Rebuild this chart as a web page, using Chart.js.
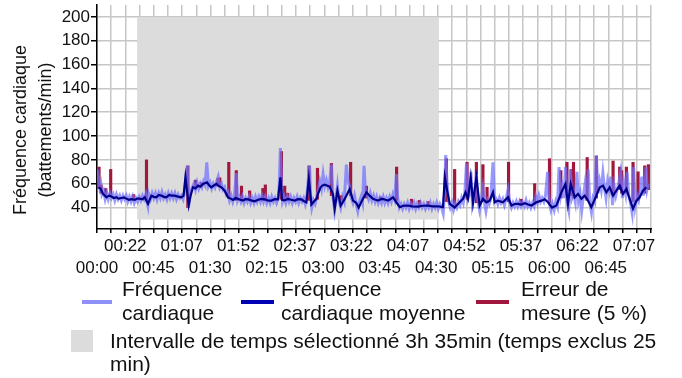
<!DOCTYPE html>
<html>
<head>
<meta charset="utf-8">
<script src="https://cdn.jsdelivr.net/npm/chart.js@4.4.1/dist/chart.umd.min.js"></script>
<style>
  body { margin: 0; background: #fff; font-family: Arial, "Liberation Sans", sans-serif; color: #111; }
  #wrap { position: relative; width: 682px; height: 378px; overflow: hidden; }
  #hrChart { position: absolute; left: 0; top: 0; }
  .swatch { position: absolute; height: 4px; top: 300px; }
  .item { position: absolute; font-size: 21px; line-height: 24px; white-space: nowrap; }
</style>
</head>
<body>
<div id="wrap">
  <canvas id="hrChart" width="682" height="280"></canvas>

  <!-- legend -->
  <div class="swatch" style="left:82px;width:30px;background:#8f8ff8"></div>
  <div class="item" style="left:122px;top:277px">Fréquence<br>cardiaque</div>
  <div class="swatch" style="left:241px;width:33px;background:#0000b4"></div>
  <div class="item" style="left:281px;top:277px">Fréquence<br>cardiaque moyenne</div>
  <div class="swatch" style="left:476px;width:33px;background:#a0163c"></div>
  <div class="item" style="left:521px;top:277px">Erreur de<br>mesure (5 %)</div>
  <div style="position:absolute;left:71px;top:330px;width:22px;height:22px;background:#dcdcdc"></div>
  <div class="item" style="left:110px;top:329px;line-height:23px">Intervalle de temps sélectionné 3h 35min (temps exclus 25<br>min)</div>
</div>

<script>
// minutes since 00:00
const hrMinutes = [
  0.4, 1.3, 2.2, 3.0, 3.9, 5.2, 6.5, 7.8, 9.0, 10.3,
  11.6, 12.9, 14.2, 15.5, 16.8, 18.1, 19.4, 20.7, 22.0, 23.3,
  24.5, 25.8, 27.1, 28.4, 29.7, 31.0, 32.3, 33.6, 34.9, 36.2,
  37.5, 38.8, 39.6, 40.5, 41.3, 42.6, 43.9, 45.2, 46.5, 47.8,
  49.1, 50.4, 51.7, 53.0, 54.3, 55.6, 56.8, 58.1, 59.4, 60.7,
  62.0, 63.3, 64.6, 65.9, 67.2, 68.5, 69.8, 71.1, 71.9, 72.8,
  73.6, 74.5, 75.8, 77.1, 78.4, 79.7, 81.0, 82.3, 83.5, 84.8,
  86.1, 87.4, 88.7, 90.0, 91.3, 92.6, 93.9, 95.2, 96.5, 97.8,
  99.1, 100.3, 101.6, 102.9, 104.2, 105.5, 106.8, 108.1, 109.4, 110.9,
  112.0, 113.3, 114.6, 115.8, 117.1, 118.4, 119.7, 121.0, 122.3, 123.6,
  124.9, 126.2, 127.5, 128.8, 130.1, 131.3, 132.6, 133.9, 135.2, 136.5,
  137.8, 139.1, 140.4, 141.7, 143.0, 144.3, 145.1, 146.0, 146.9, 147.7,
  149.0, 150.3, 151.6, 152.9, 154.2, 155.5, 156.8, 158.1, 159.3, 160.6,
  161.9, 163.2, 164.5, 165.8, 167.1, 168.4, 169.2, 170.1, 171.0, 172.3,
  173.6, 174.8, 176.1, 177.4, 178.7, 180.0, 181.3, 182.6, 183.9, 185.2,
  186.6, 187.8, 189.1, 190.3, 191.4, 192.5, 194.0, 195.5, 196.8, 198.5,
  199.8, 201.1, 202.4, 203.7, 205.0, 206.3, 207.6, 208.9, 210.2, 211.4,
  212.6, 213.6, 214.9, 216.2, 217.5, 218.8, 220.1, 221.4, 222.6, 223.9,
  225.2, 226.5, 227.8, 229.1, 230.4, 231.7, 233.0, 234.3, 235.6, 236.9,
  238.3, 239.4, 240.7, 242.0, 243.3, 244.6, 245.9, 247.2, 248.5, 249.8,
  251.1, 252.4, 253.7, 254.9, 256.2, 257.5, 258.8, 260.1, 261.4, 262.7,
  264.0, 265.3, 266.6, 267.9, 269.2, 270.4, 271.7, 273.0, 274.3, 275.6,
  276.5, 277.6, 278.6, 279.9, 281.2, 282.5, 283.8, 285.1, 286.4, 287.7,
  289.0, 290.3, 291.6, 292.8, 294.1, 295.4, 296.7, 297.6, 298.9, 300.2,
  302.0, 303.2, 304.5, 305.8, 307.2, 308.4, 309.6, 310.9, 312.2, 313.5,
  315.2, 316.5, 317.8, 319.1, 320.4, 321.7, 323.0, 324.3, 325.6, 327.2,
  328.6, 329.9, 331.2, 332.5, 333.8, 335.0, 336.3, 337.6, 338.9, 340.2,
  341.5, 342.8, 344.1, 345.4, 346.7, 348.0, 349.3, 350.6, 351.8, 353.1,
  354.4, 355.7, 357.0, 358.7, 360.0, 361.3, 362.6, 363.9, 365.2, 366.5,
  367.8, 369.1, 370.4, 371.7, 372.9, 374.2, 375.5, 376.8, 378.1, 379.4,
  380.7, 382.0, 383.3, 384.6, 385.9, 387.2, 388.5, 389.7, 391.0, 392.3,
  393.6, 394.9, 396.2, 397.5, 398.8, 400.1, 401.4, 402.7, 404.0, 405.2,
  406.5, 407.8, 409.1, 410.4, 411.7, 413.0, 414.3, 415.6, 416.9, 418.2,
  419.5, 420.8, 422.0, 423.3, 424.6, 425.9, 427.2, 428.5, 429.8, 431.1,
  432.4, 433.7, 435.0, 436.3, 437.1, 438.0, 438.8
];
const hrValues = [
  72, 64, 57, 60, 51, 54, 47, 52, 47, 52,
  48, 51, 46, 51, 47, 50, 46, 50, 47, 50,
  45, 49, 45, 49, 44, 48, 45, 49, 46, 50,
  47, 51, 45, 41, 51, 47, 52, 48, 52, 47,
  52, 48, 53, 48, 51, 47, 52, 48, 52, 48,
  52, 47, 51, 48, 50, 47, 54, 68, 75, 40,
  46, 54, 57, 60, 55, 61, 56, 60, 57, 62,
  59, 78, 58, 61, 56, 60, 57, 62, 66, 57,
  60, 55, 57, 51, 53, 46, 50, 45, 50, 69,
  46, 49, 45, 49, 44, 48, 45, 49, 44, 48,
  44, 49, 45, 49, 45, 50, 45, 49, 44, 48,
  44, 49, 45, 48, 44, 48, 60, 90, 58, 45,
  49, 44, 49, 45, 49, 44, 48, 45, 49, 44,
  48, 45, 48, 43, 50, 66, 75, 50, 40, 46,
  43, 48, 55, 62, 56, 68, 58, 63, 57, 62,
  76, 50, 38, 48, 58, 46, 40, 49, 45, 76,
  62, 58, 48, 44, 50, 43, 37, 45, 49, 44,
  75, 55, 51, 47, 52, 46, 50, 45, 49, 44,
  48, 44, 49, 44, 48, 44, 49, 45, 51, 47,
  68, 48, 40, 43, 39, 43, 40, 44, 39, 43,
  40, 44, 39, 43, 40, 44, 40, 43, 39, 43,
  40, 44, 39, 43, 40, 44, 39, 43, 40, 35,
  50, 84, 62, 45, 40, 44, 38, 43, 40, 45,
  42, 48, 44, 52, 77, 48, 52, 70, 42, 48,
  68, 46, 38, 46, 56, 44, 37, 46, 43, 48,
  78, 45, 47, 43, 48, 44, 47, 42, 47, 55,
  44, 40, 44, 41, 45, 41, 45, 41, 44, 41,
  46, 41, 44, 40, 44, 41, 49, 44, 50, 45,
  48, 45, 50, 70, 44, 38, 43, 38, 45, 41,
  74, 50, 57, 48, 74, 45, 38, 72, 48, 52,
  45, 70, 46, 52, 38, 50, 60, 46, 72, 44,
  36, 48, 45, 84, 52, 62, 55, 69, 56, 48,
  62, 55, 66, 42, 58, 50, 56, 62, 70, 48,
  60, 52, 70, 50, 44, 36, 74, 42, 50, 46,
  54, 66, 50, 62, 74, 56, 60
];

const avgMinutes = [
  1.3, 2.9, 4.7, 7.5, 9.5, 11.5, 13.4, 15.4, 17.2, 19.4,
  21.5, 23.4, 25.4, 27.4, 30.0, 31.9, 34.0, 36.2, 38.0, 40.6,
  43.3, 45.2, 47.3, 49.1, 51.2, 53.4, 55.2, 57.3, 59.3, 61.8,
  64.5, 67.2, 68.9, 70.4, 73.0, 74.5, 76.4, 78.4, 80.4, 82.3,
  84.4, 87.6, 89.1, 91.0, 93.0, 95.1, 96.9, 99.1, 101.6, 104.3,
  106.4, 108.3, 110.2, 112.2, 114.1, 116.2, 118.0, 120.2, 122.7, 125.5,
  128.3, 130.8, 133.5, 136.1, 138.8, 141.3, 144.1, 146.0, 147.3, 149.4,
  152.0, 154.6, 157.4, 159.8, 162.7, 164.5, 166.7, 168.6, 170.7, 172.7,
  174.7, 176.1, 178.0, 179.6, 181.2, 183.0, 185.2, 187.8, 189.2, 191.4,
  194.0, 197.2, 199.0, 201.1, 203.8, 206.3, 208.3, 211.7, 214.5, 217.0,
  219.7, 221.8, 223.7, 225.7, 227.6, 229.5, 231.6, 233.4, 235.7, 238.3,
  241.0, 243.8, 247.5, 250.6, 255.6, 259.3, 263.5, 267.0, 271.5, 275.4,
  276.9, 278.6, 280.8, 284.7, 288.7, 291.4, 293.3, 295.3, 297.5, 299.3,
  302.0, 304.6, 307.2, 310.0, 312.6, 315.2, 316.6, 319.2, 323.2, 327.2,
  329.9, 332.5, 335.1, 337.6, 340.5, 343.2, 345.8, 349.8, 353.7, 356.4,
  359.0, 362.2, 365.7, 369.7, 372.9, 374.9, 377.1, 380.3, 382.9, 385.6,
  388.2, 390.9, 393.5, 397.5, 400.2, 402.8, 405.5, 408.1, 410.8, 413.4,
  416.1, 418.7, 421.4, 424.0, 426.7, 429.4, 432.0, 434.6, 437.3
];
const avgValues = [
  57, 55.8, 51.6, 48.6, 50, 49.2, 48, 48.6, 47.5, 48,
  48.5, 47.5, 46.5, 47, 46.4, 47.5, 47.5, 47, 48.6, 43.1,
  50, 49, 48.6, 50.5, 50, 49, 48.6, 50.5, 50, 50,
  49.2, 48.6, 50, 65.4, 42, 50, 57, 56, 58.4, 57.5,
  59.8, 61.2, 59, 57, 58.5, 59.8, 58, 57, 54.2, 48.6,
  47.5, 46.4, 48, 47.3, 46.5, 45.8, 47, 46.9, 46, 45.3,
  46.5, 47.3, 46.9, 45.8, 45.8, 47, 46.9, 65.4, 46.4, 46,
  47.3, 46.5, 45.8, 47, 46.9, 45.5, 44.4, 64, 42.5, 45,
  47.3, 52, 57, 58.5, 59.2, 58.5, 57.5, 51.4, 39, 54.2,
  41.7, 47.3, 51, 55.6, 45.8, 44, 40, 47.3, 52.8, 50,
  47.3, 46.5, 45.8, 47, 47.3, 46.5, 45.8, 47, 48.6, 44.4,
  40.3, 41.5, 41.7, 41, 40.8, 41.5, 41.7, 41, 41.1, 40.3,
  65.4, 55, 43.1, 40, 44.4, 47.3, 52.8, 47.3, 65.4, 44.4,
  65.4, 41.7, 47.3, 44.4, 45.8, 52.8, 44.4, 45.8, 44.4, 48.6,
  41.7, 43, 43.1, 42.5, 43.7, 42.5, 41.7, 44.4, 45.8, 47,
  44.4, 40, 41.7, 52.8, 59.8, 43.1, 59.8, 48.6, 51.4, 47.3,
  50, 45.8, 40.3, 50, 57, 58.4, 52.8, 57, 50, 54.2,
  58.4, 51.4, 55.6, 47.3, 39, 45.8, 48.6, 54.2, 57
];

// measurement error spikes, drawn from low to high
const errorMinutes = [
  1.6, 3.3, 6.9, 10.9, 28.9, 39.4, 72.3, 78.4, 83.1, 96.3,
  97.7, 104.9, 110.9, 115.0, 121.5, 132.0, 134.0, 146.8, 149.4, 151.8,
  168.8, 175.5, 186.6, 194.7, 201.9, 214.5, 225.7, 238.5, 250.3, 256.7,
  263.6, 278.1, 284.7, 294.6, 302.0, 307.2, 310.5, 327.6, 337.6, 348.4,
  360.2, 369.2, 374.1, 377.6, 379.3, 390.2, 397.5, 410.8, 416.1, 417.6,
  421.4, 426.7, 430.7, 436.0, 438.9
];
const errorLow = [
  56, 52, 50, 50, 47, 46, 40, 57, 58, 58,
  58, 48, 46, 46, 46, 46, 46, 47, 47, 46,
  46, 47, 50, 46, 50, 48, 46, 46, 41, 41,
  41, 45, 42, 47, 44, 45, 44, 45, 42, 43,
  44, 48, 50, 50, 48, 46, 48, 50, 55, 52,
  52, 45, 46, 52, 55
];
const errorHigh = [
  74, 59, 56, 72, 51, 80, 75, 63, 61, 64.5,
  65, 78, 71, 58, 54, 56, 59, 87, 58, 52,
  75, 73, 77, 50, 78, 58, 49, 74, 47, 46,
  45, 81, 72, 78, 78, 76, 57, 78, 47, 60,
  81, 71, 78, 72, 78, 82, 83, 79, 74, 71,
  74, 78, 70, 75, 76
];

// selected interval (grey block)
const bandMinutes = [31.9, 272.0];
const bandTop = [200, 200];
const bandBottom = 30;

const yTicks = [40, 60, 80, 100, 120, 140, 160, 180, 200];
const labelMinutes = [0, 22.5, 45, 67.5, 90, 112.5, 135, 157.5, 180, 202.5,
  225, 247.5, 270, 292.5, 315, 337.5, 360, 382.5, 405, 427.5];
const timeLabels = ['00:00', '00:22', '00:45', '01:07', '01:30', '01:52', '02:15', '02:37', '03:00', '03:22',
  '03:45', '04:07', '04:30', '04:52', '05:15', '05:37', '06:00', '06:22', '06:45', '07:07'];
const yTitle = ['Fréquence cardiaque', '(battements/min)'];

const X_MAX = 441;
const Y_MIN = 22;
const Y_MAX = 210;
const GRID_COUNT = 39;
const FONT = 'Arial, "Liberation Sans", sans-serif';

Chart.defaults.font.family = FONT;
Chart.defaults.font.size = 17;
Chart.defaults.color = '#111';

const toPoints = (xs, ys) => xs.map((x, i) => ({ x: x, y: ys[i] }));

// y axis title, a little below the plot middle like the original
const yAxisTitle = {
  id: 'yAxisTitle',
  afterDraw(chart) {
    const ctx = chart.ctx;
    ctx.save();
    ctx.font = '18px ' + FONT;
    ctx.fillStyle = '#111';
    ctx.textAlign = 'center';
    ctx.textBaseline = 'middle';
    ctx.translate(21, 130);
    ctx.rotate(-Math.PI / 2);
    ctx.fillText(yTitle[0], 0, 0);
    ctx.fillText(yTitle[1], 0, 25);
    ctx.restore();
  }
};

new Chart('hrChart', {
  type: 'line',
  data: {
    datasets: [
      {
        label: 'Intervalle de temps sélectionné',
        data: toPoints(bandMinutes, bandTop),
        fill: { value: bandBottom },
        backgroundColor: '#dcdcdc',
        borderWidth: 0,
        pointRadius: 0,
        order: 4
      },
      {
        label: 'Erreur de mesure (5 %)',
        type: 'bar',
        data: errorMinutes.map((t, i) => ({ x: t, y: [errorLow[i], errorHigh[i]] })),
        backgroundColor: '#a0163c',
        barThickness: 2.5,
        order: 3
      },
      {
        label: 'Fréquence cardiaque',
        data: toPoints(hrMinutes, hrValues),
        borderColor: 'rgba(112,112,255,0.72)',
        borderWidth: 3,
        pointRadius: 0,
        order: 2
      },
      {
        label: 'Fréquence cardiaque moyenne',
        data: toPoints(avgMinutes, avgValues),
        borderColor: '#000088',
        borderWidth: 2.2,
        pointRadius: 0,
        order: 1
      }
    ]
  },
  options: {
    responsive: false,
    animation: false,
    layout: { padding: { top: 5, right: 31, left: 0, bottom: 0 } },
    plugins: {
      legend: { display: false },
      tooltip: { enabled: false }
    },
    scales: {
      // grid lines and small tick marks only
      xg: {
        type: 'linear',
        position: 'bottom',
        min: 0,
        max: X_MAX,
        afterBuildTicks: s => {
          const ticks = [];
          for (let k = 0; k <= GRID_COUNT; k++) ticks.push({ value: k * X_MAX / GRID_COUNT });
          s.ticks = ticks;
        },
        afterFit: s => { s.height = 0; },
        ticks: { display: false },
        grid: { color: '#c6c6c6', lineWidth: 1.5, tickColor: '#000', tickLength: 4 },
        border: { display: false }
      },
      x: {
        type: 'linear',
        position: 'bottom',
        min: 0,
        max: X_MAX,
        offset: false,
        afterBuildTicks: s => { s.ticks = labelMinutes.map(v => ({ value: v })); },
        afterFit: s => { s.height = 51; },
        ticks: {
          autoSkip: false,
          maxRotation: 0,
          padding: 7,
          font: { size: 17, lineHeight: 1.25 },
          callback: (v, i) => (i % 2 ? [timeLabels[i], ''] : ['', timeLabels[i]])
        },
        grid: { display: false, drawTicks: false, offset: false },
        border: { color: '#000', width: 1.5 }
      },
      y: {
        min: Y_MIN,
        max: Y_MAX,
        afterBuildTicks: s => { s.ticks = yTicks.concat([Y_MAX]).map(v => ({ value: v })); },
        afterFit: s => { s.width = 97; s.paddingTop = 0; s.paddingBottom = 0; },
        ticks: {
          padding: 1,
          callback: v => (v === Y_MAX ? null : v)
        },
        grid: {
          color: '#c6c6c6',
          lineWidth: 1.5,
          tickLength: 6,
          tickColor: c => (c.tick && c.tick.value === Y_MAX ? 'rgba(0,0,0,0)' : '#000')
        },
        border: { color: '#000', width: 1.5 }
      }
    }
  },
  plugins: [yAxisTitle]
});
</script>
</body>
</html>
